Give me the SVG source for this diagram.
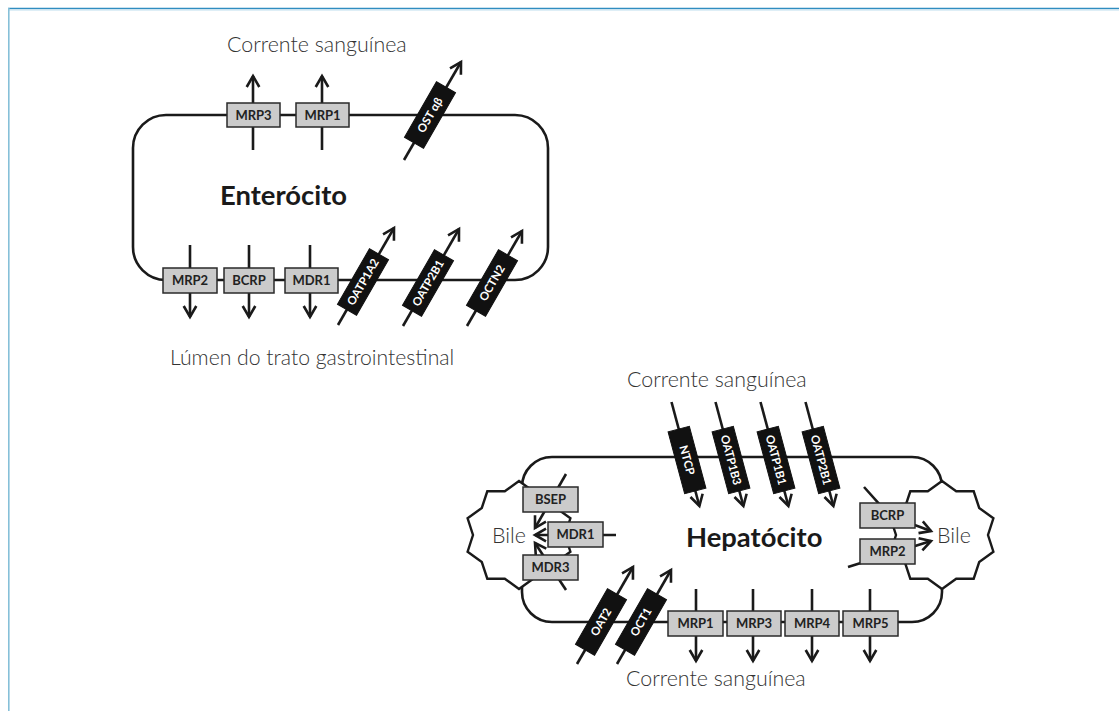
<svg xmlns="http://www.w3.org/2000/svg" width="1119" height="711" viewBox="0 0 1119 711">
<style>
.cell{fill:none;stroke:#1a1a1a;stroke-width:2.6}
.blob{fill:#fff;stroke:#1a1a1a;stroke-width:2.4;stroke-linejoin:miter}
.ln{fill:none;stroke:#1a1a1a;stroke-width:2.5}
.arr{fill:none;stroke:#1a1a1a;stroke-width:2.6;marker-end:url(#ah)}
.gbox{fill:#cbcbcb;stroke:#2a2a2a;stroke-width:1.5}
.bbox{fill:#111;stroke:#111;stroke-width:1}
.gt{font-family:Lato,"Liberation Sans",sans-serif;font-weight:700;font-size:13px;fill:#222;text-anchor:middle}
.bt{font-family:Lato,"Liberation Sans",sans-serif;font-weight:700;font-size:11.5px;fill:#fff;text-anchor:middle}
.lt{font-family:Lato,"Liberation Sans",sans-serif;font-weight:300;font-size:21.4px;fill:#333}
.tt{font-family:Lato,"Liberation Sans",sans-serif;font-weight:700;font-size:27.4px;fill:#1a1a1a}
</style>
<defs>
<marker id="ah" markerUnits="userSpaceOnUse" markerWidth="20" markerHeight="20" viewBox="-14 -10 18 20" refX="0" refY="0" orient="auto">
<path d="M-11,-6.3 L0,0 L-11,6.3" fill="none" stroke="#1a1a1a" stroke-width="2.6" stroke-linejoin="miter"/>
</marker>
<path id="star" d="M0,-54 L14.2,-43.7 L31.7,-43.7 L37.2,-27 L51.4,-16.7 L46,0 L51.4,16.7 L37.2,27 L31.7,43.7 L14.2,43.7 L0,54 L-14.2,43.7 L-31.7,43.7 L-37.2,27 L-51.4,16.7 L-46,0 L-51.4,-16.7 L-37.2,-27 L-31.7,-43.7 L-14.2,-43.7 Z"/>
</defs>
<rect width="1119" height="711" fill="#fff"/>
<g id="frame">
<line x1="8" y1="8.5" x2="1119" y2="8.5" stroke="#2f8dc0" stroke-width="1.6"/>
<line x1="8" y1="10.2" x2="1119" y2="10.2" stroke="#cfe6f2" stroke-width="1"/>
<line x1="8.8" y1="8" x2="8.8" y2="711" stroke="#86c0d8" stroke-width="1.6"/>
</g>
<g id="enterocito">
<rect class="cell" x="133" y="115" width="415" height="165" rx="33"/>
<text class="tt" x="220" y="205">Enterócito</text>
</g>
<g id="hepatocito">
<rect class="cell" x="522" y="457" width="420" height="165" rx="30"/>
<text class="tt" x="686" y="547">Hepatócito</text>
</g>
<g id="bile-left">
<use href="#star" class="blob" transform="translate(519,535)"/>
<text class="lt" x="492" y="543">Bile</text>
</g>
<g id="bile-right">
<use href="#star" class="blob" transform="translate(942,535)"/>
<text class="lt" x="937" y="543">Bile</text>
</g>
<g id="labels">
<text class="lt" x="227" y="52">Corrente sanguínea</text>
<text class="lt" x="170" y="365" style="font-size:21.2px">Lúmen do trato gastrointestinal</text>
<text class="lt" x="627" y="387">Corrente sanguínea</text>
<text class="lt" x="626" y="686">Corrente sanguínea</text>
</g>
<g id="connectors">
<line class="arr" x1="253" y1="150" x2="253" y2="76"/>
<line class="arr" x1="322" y1="150" x2="322" y2="76"/>
<line class="arr" x1="404" y1="160" x2="461" y2="62"/>
<line class="arr" x1="190" y1="245" x2="190" y2="317"/>
<line class="arr" x1="249" y1="245" x2="249" y2="317"/>
<line class="arr" x1="310" y1="245" x2="310" y2="317"/>
<line class="arr" x1="338" y1="325" x2="394" y2="228"/>
<line class="arr" x1="403" y1="326" x2="459" y2="229"/>
<line class="arr" x1="467" y1="326" x2="522" y2="231"/>
<line class="arr" x1="671.5" y1="402" x2="699.4" y2="506"/>
<line class="arr" x1="715.5" y1="402" x2="743.4" y2="506"/>
<line class="arr" x1="760.5" y1="402" x2="788.4" y2="506"/>
<line class="arr" x1="805.5" y1="402" x2="833.4" y2="506"/>
<line class="arr" x1="566" y1="474" x2="535" y2="528"/>
<line class="arr" x1="616" y1="535" x2="535" y2="535"/>
<line class="arr" x1="566" y1="590" x2="535" y2="543"/>
<path class="arr" d="M864,487 L890,516 L931,531"/>
<line class="arr" x1="848" y1="567" x2="931" y2="541"/>
<line class="arr" x1="577" y1="664" x2="633" y2="567"/>
<line class="arr" x1="617" y1="664" x2="671" y2="570"/>
<line class="arr" x1="696" y1="589" x2="696" y2="661"/>
<line class="arr" x1="753" y1="589" x2="753" y2="661"/>
<line class="arr" x1="812" y1="589" x2="812" y2="661"/>
<line class="arr" x1="870" y1="589" x2="870" y2="661"/>
</g>
<g id="MRP3-e"><rect class="gbox" x="227" y="103" width="53" height="24"/><text class="gt" x="253.5" y="119.6">MRP3</text></g>
<g id="MRP1-e"><rect class="gbox" x="296" y="103" width="53" height="24"/><text class="gt" x="322.5" y="119.6">MRP1</text></g>
<g id="OST" transform="translate(430,115) rotate(-60)"><rect class="bbox" x="-32" y="-11" width="64" height="22"/><text class="bt" x="0" y="4">OST αβ</text></g>
<g id="MRP2-e"><rect class="gbox" x="163" y="268" width="54" height="25"/><text class="gt" x="190" y="285.1">MRP2</text></g>
<g id="BCRP-e"><rect class="gbox" x="224" y="268" width="50" height="25"/><text class="gt" x="249" y="285.1">BCRP</text></g>
<g id="MDR1-e"><rect class="gbox" x="285" y="268" width="53" height="25"/><text class="gt" x="311.5" y="285.1">MDR1</text></g>
<g id="OATP1A2" transform="translate(363,282) rotate(-60)"><rect class="bbox" x="-32" y="-11" width="64" height="22"/><text class="bt" x="0" y="4">OATP1A2</text></g>
<g id="OATP2B1-e" transform="translate(428,283) rotate(-60)"><rect class="bbox" x="-32" y="-11" width="64" height="22"/><text class="bt" x="0" y="4">OATP2B1</text></g>
<g id="OCTN2" transform="translate(492,283) rotate(-60)"><rect class="bbox" x="-32" y="-11" width="64" height="22"/><text class="bt" x="0" y="4">OCTN2</text></g>
<g id="NTCP" transform="translate(687,460) rotate(75)"><rect class="bbox" x="-32" y="-11" width="64" height="22"/><text class="bt" x="0" y="4">NTCP</text></g>
<g id="OATP1B3" transform="translate(731,460) rotate(75)"><rect class="bbox" x="-32" y="-11" width="64" height="22"/><text class="bt" x="0" y="4">OATP1B3</text></g>
<g id="OATP1B1" transform="translate(776,460) rotate(75)"><rect class="bbox" x="-32" y="-11" width="64" height="22"/><text class="bt" x="0" y="4">OATP1B1</text></g>
<g id="OATP2B1-h" transform="translate(821,460) rotate(75)"><rect class="bbox" x="-32" y="-11" width="64" height="22"/><text class="bt" x="0" y="4">OATP2B1</text></g>
<g id="BSEP"><rect class="gbox" x="523" y="487" width="55" height="25"/><text class="gt" x="550.5" y="504.1">BSEP</text></g>
<g id="MDR1-h"><rect class="gbox" x="548" y="522" width="55" height="25"/><text class="gt" x="575.5" y="539.1">MDR1</text></g>
<g id="MDR3"><rect class="gbox" x="523" y="555" width="55" height="25"/><text class="gt" x="550.5" y="572.1">MDR3</text></g>
<g id="BCRP-h"><rect class="gbox" x="860" y="503" width="55" height="25"/><text class="gt" x="887.5" y="520.1">BCRP</text></g>
<g id="MRP2-h"><rect class="gbox" x="860" y="539" width="55" height="25"/><text class="gt" x="887.5" y="556.1">MRP2</text></g>
<g id="OAT2" transform="translate(601,622) rotate(-60)"><rect class="bbox" x="-32" y="-11" width="64" height="22"/><text class="bt" x="0" y="4">OAT2</text></g>
<g id="OCT1" transform="translate(641,622) rotate(-60)"><rect class="bbox" x="-32" y="-11" width="64" height="22"/><text class="bt" x="0" y="4">OCT1</text></g>
<g id="MRP1-h"><rect class="gbox" x="668" y="611" width="55" height="25"/><text class="gt" x="695.5" y="628.1">MRP1</text></g>
<g id="MRP3-h"><rect class="gbox" x="727" y="611" width="54" height="25"/><text class="gt" x="754" y="628.1">MRP3</text></g>
<g id="MRP4-h"><rect class="gbox" x="785" y="611" width="54" height="25"/><text class="gt" x="812" y="628.1">MRP4</text></g>
<g id="MRP5-h"><rect class="gbox" x="843" y="611" width="55" height="25"/><text class="gt" x="870.5" y="628.1">MRP5</text></g>
</svg>
